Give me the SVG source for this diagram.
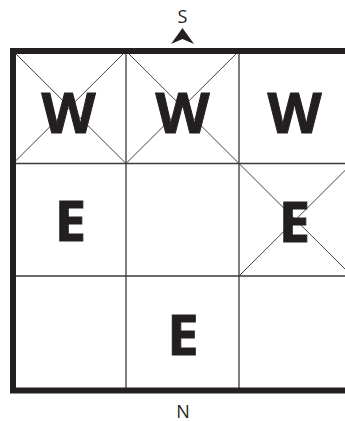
<svg xmlns="http://www.w3.org/2000/svg" width="345" height="421" viewBox="0 0 345 421">
<style>
.grid{stroke:#3a3a3a;stroke-width:1.3;fill:none}
.diag{stroke:#444;stroke-width:1;fill:none}
.frame{stroke:#231f20;stroke-width:6;fill:none}
.big{font-family:"Open Sans","Liberation Sans",sans-serif;font-weight:700;font-size:56px;fill:#231f20;stroke:#231f20;stroke-width:1;text-anchor:middle}
.dir{font-family:"Open Sans","Liberation Sans",sans-serif;font-size:18px;fill:#231f20;text-anchor:middle}
</style>
<rect width="345" height="421" fill="#fff"/>
<g id="grid-lines">
<line class="grid" x1="126" y1="51" x2="126" y2="390.5"/>
<line class="grid" x1="239" y1="51" x2="239" y2="390.5"/>
<line class="grid" x1="13" y1="163.5" x2="352" y2="163.5"/>
<line class="grid" x1="13" y1="276" x2="352" y2="276"/>
</g>
<g id="cell-0-0">
<line class="diag" x1="13" y1="51" x2="126" y2="163.5"/>
<line class="diag" x1="126" y1="51" x2="13" y2="163.5"/>
<text class="big" x="68.5" y="132.5">W</text>
</g>
<g id="cell-0-1">
<line class="diag" x1="126" y1="51" x2="239" y2="163.5"/>
<line class="diag" x1="239" y1="51" x2="126" y2="163.5"/>
<text class="big" x="182.5" y="132.5">W</text>
</g>
<g id="cell-0-2">
<text class="big" x="294.5" y="132.5">W</text>
</g>
<g id="cell-1-0">
<text class="big" x="70.5" y="241">E</text>
</g>
<g id="cell-1-2">
<line class="diag" x1="239" y1="163.5" x2="352" y2="276"/>
<line class="diag" x1="239" y1="276" x2="352" y2="163.5"/>
<text class="big" x="294.5" y="241.5">E</text>
</g>
<g id="cell-2-1">
<text class="big" x="183" y="355">E</text>
</g>
<g id="frame">
<path class="frame" d="M352,51 H13 V390.5 H352"/>
</g>
<g id="compass">
<text class="dir" x="182.5" y="22.5">S</text>
<path d="M182.5,28 L194,44 L182.5,39 L171,44 Z" fill="#231f20"/>
<text class="dir" x="183" y="417.5" font-size="19">N</text>
</g>
</svg>
